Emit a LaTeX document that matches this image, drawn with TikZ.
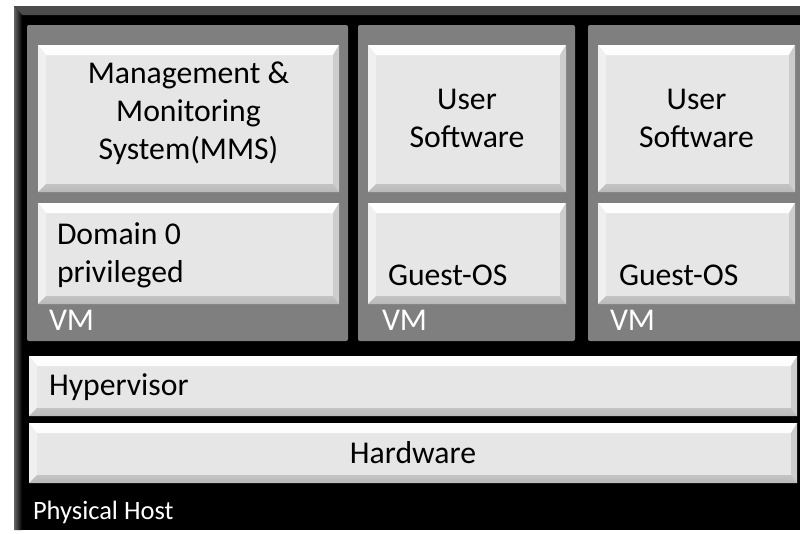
\documentclass[tikz,border=0pt]{standalone}
\usepackage{fontspec}
\setmainfont{Carlito}
\definecolor{vmgray}{RGB}{127,127,127}
\definecolor{boxgray}{RGB}{230,230,230}
\definecolor{bevellight}{RGB}{240,240,240}
\definecolor{bevelright}{RGB}{205,205,205}
\definecolor{bevelbottom}{RGB}{185,185,185}
\usetikzlibrary{positioning}
\usetikzlibrary{shadows}

\begin{document}
\begin{tikzpicture}[x=1pt, y=-1pt]
        \tikzset{every node/.style={inner sep=0pt, outer sep=0pt},
                txt/.style={font=\fontsize{31.7}{38}\selectfont, align=center},
                whitetxt/.style={txt, text=white},
                panel/.style={fill=vmgray, rounded corners=2pt, anchor=north west},
                hostframe/.style={fill=black, anchor=north west,
                        path picture={
                        \shade[top color=black!70, bottom color=black]
                                (path picture bounding box.north west) -- (path picture bounding box.north east)
                                -- ([shift={(0pt,-9pt)}]path picture bounding box.north east)
                                -- ([shift={(8pt,-9pt)}]path picture bounding box.north west) -- cycle;
                        \shade[left color=black!60, right color=black]
                                (path picture bounding box.north west) -- ([shift={(8pt,-9pt)}]path picture bounding box.north west)
                                -- ([shift={(8pt,0pt)}]path picture bounding box.south west)
                                -- (path picture bounding box.south west) -- cycle;}},
                bevelbox/.style={fill=boxgray, anchor=north west, txt,
                        path picture={
                        \shade[top color=white, bottom color=bevellight]
                                (path picture bounding box.north west) -- (path picture bounding box.north east)
                                -- ([shift={(-6pt,-10pt)}]path picture bounding box.north east)
                                -- ([shift={(8pt,-10pt)}]path picture bounding box.north west) -- cycle;
                        \fill[bevellight]
                                (path picture bounding box.north west) -- ([shift={(8pt,-10pt)}]path picture bounding box.north west)
                                -- ([shift={(8pt,8pt)}]path picture bounding box.south west)
                                -- (path picture bounding box.south west) -- cycle;
                        \fill[bevelright]
                                (path picture bounding box.north east) -- ([shift={(-6pt,-10pt)}]path picture bounding box.north east)
                                -- ([shift={(-6pt,8pt)}]path picture bounding box.south east)
                                -- (path picture bounding box.south east) -- cycle;
                        \shade[top color=boxgray!85!black, bottom color=bevelbottom]
                                (path picture bounding box.south west) -- (path picture bounding box.south east)
                                -- ([shift={(-6pt,8pt)}]path picture bounding box.south east)
                                -- ([shift={(8pt,8pt)}]path picture bounding box.south west) -- cycle;}}}

        \useasboundingbox (0,0) rectangle (800,533);
        \clip (0,0) rectangle (800,533);

        % host and virtual machines
        \node[hostframe, minimum width=800pt, minimum height=524pt] (host) at (14,6) {};
        \node[panel, minimum width=321pt, minimum height=316pt] (vm1) at (27,25) {};
        \node[panel, minimum width=217pt, minimum height=316pt] (vm2) at (358,25) {};
        \node[panel, minimum width=230pt, minimum height=316pt] (vm3) at (588,25) {};

        % upper layer
        \node[bevelbox, minimum width=301pt, minimum height=147pt] (mms) at (38,45) {};
        \node[txt] (mmstxt) at ([yshift=5pt]mms.center) {Management \&\\Monitoring\\System(MMS)};
        \node[bevelbox, minimum width=198pt, minimum height=147pt] (user2) at (368,45) {User\\Software};
        \node[bevelbox, minimum width=197pt, minimum height=147pt] (user3) at (598,45) {User\\Software};

        % operating systems
        \node[bevelbox, minimum width=301pt, minimum height=101pt] (dom0) at (38,203) {};
        \node[bevelbox, minimum width=198pt, minimum height=101pt] (guest2) at (368,203) {};
        \node[bevelbox, minimum width=197pt, minimum height=101pt] (guest3) at (598,203) {};
        \node[txt, align=left, anchor=south west] (dom0txt) at ([shift={(19pt,16pt)}]dom0.south west) {Domain 0\\privileged};
        \node[txt, anchor=base west] (guest2txt) at ([shift={(20pt,19pt)}]guest2.south west) {Guest-OS};
        \node[txt, anchor=base west] (guest3txt) at ([shift={(21pt,19pt)}]guest3.south west) {Guest-OS};

        \node[whitetxt, anchor=base west] (vm1txt) at ([shift={(22pt,11pt)}]vm1.south west) {VM};
        \node[whitetxt, anchor=base west] (vm2txt) at ([shift={(24pt,11pt)}]vm2.south west) {VM};
        \node[whitetxt, anchor=base west] (vm3txt) at ([shift={(22pt,11pt)}]vm3.south west) {VM};

        % lower layers
        \node[bevelbox, minimum width=768pt, minimum height=60pt] (hyper) at (29,356) {};
        \node[txt, anchor=base west] (hypertxt) at ([shift={(20pt,-9pt)}]hyper.west) {Hypervisor};
        \node[bevelbox, minimum width=768pt, minimum height=60pt] (hw) at (29,423) {Hardware};

        \node[whitetxt, font=\fontsize{26.5}{31}\selectfont, anchor=base west] (hosttxt) at ([shift={(19pt,11pt)}]host.south west) {Physical Host};

    \end{tikzpicture}
\end{document}
